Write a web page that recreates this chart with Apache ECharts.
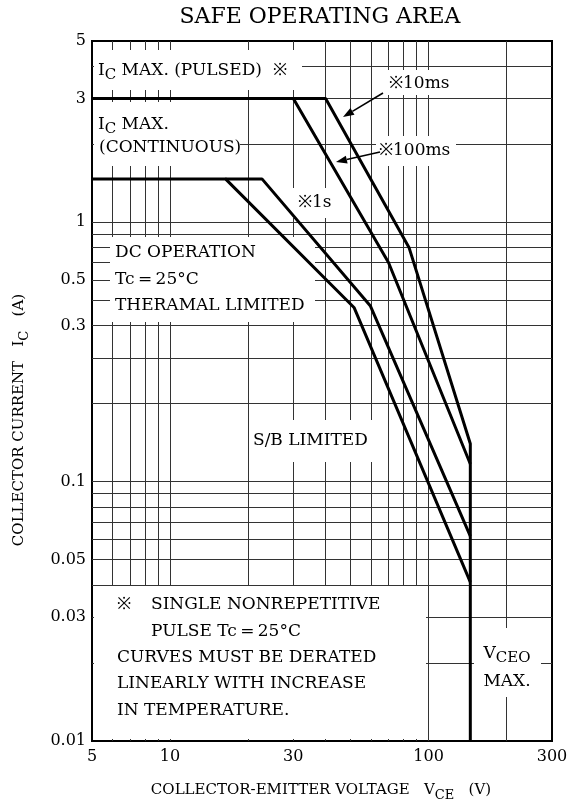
<!DOCTYPE html>
<html lang="en">
<head>
    <meta charset="UTF-8">
    <title>SAFE OPERATING AREA</title>
    <style>
        html, body { margin: 0; padding: 0; background: #fff; }
        #myEcharts { width: 576px; height: 809px; }
    </style>
    <script src="https://cdn.jsdelivr.net/npm/echarts@6/dist/echarts.min.js"></script>
</head>
<body>
<div id="myEcharts"></div>
<script>
    // x axis: collector-emitter voltage (V), log scale
    var xLabelValues = [5, 10, 30, 100, 300];
    var xGridValues = [6, 7, 8, 9, 10, 20, 30, 40, 50, 60, 70, 80, 90, 100, 200];
    // y axis: collector current (A), log scale
    var yGridValues = [0.02, 0.03, 0.04, 0.05, 0.06, 0.07, 0.08, 0.09, 0.1,
        0.2, 0.3, 0.4, 0.5, 0.6, 0.7, 0.8, 0.9, 1, 2, 3, 4];
    // labels as printed on the sheet (0.5 / 0.3 sit one grid line high)
    var yLabelValues = [0.01, 0.03, 0.05, 0.1, 0.4, 0.6, 1, 3, 5];
    var yLabelTexts = ['0.01', '0.03', '0.05', '0.1', '0.3', '0.5', '1', '3', '5'];

    // SOA curves [V, A]
    var pulse10ms = [[5, 3], [40, 3], [84, 0.8], [145, 0.14], [145, 0.01]];
    var pulse100ms = [[30, 3], [70, 0.7], [145, 0.117]];
    var pulse1s = [[16.4, 1.47], [22.7, 1.47], [59.5, 0.477], [145, 0.0616]];
    var dcCurve = [[5, 1.47], [16.4, 1.47], [51.6, 0.468], [145, 0.041]];

    var FONT = '"DejaVu Serif", "Liberation Serif", serif';

    function txt(x, y, text, size, align, extra) {
        var el = {
            type: 'text', x: x, y: y, z: 10,
            style: {
                text: text, fill: '#000', font: size + 'px ' + FONT,
                textAlign: align || 'left', textVerticalAlign: 'middle'
            }
        };
        if (extra) {
            for (var k in extra) el.style[k] = extra[k];
        }
        return el;
    }

    function subRich(size) {
        return {
            n: { fontFamily: FONT, fontSize: size, lineHeight: 24, verticalAlign: 'middle', color: '#000' },
            s: { fontFamily: FONT, fontSize: size - 2, lineHeight: 14, verticalAlign: 'bottom', color: '#000' }
        };
    }

    // white boxes that hide the grid behind labels
    function box(x1, y1, x2, y2) {
        return {
            type: 'rect', z: 5, shape: { x: x1, y: y1, width: x2 - x1, height: y2 - y1 },
            style: { fill: '#fff' }, silent: true
        };
    }

    function arrow(x1, y1, x2, y2) {
        var a = Math.atan2(y2 - y1, x2 - x1), L = 11, W = 4;
        var bx = x2 - L * Math.cos(a), by = y2 - L * Math.sin(a);
        return [
            { type: 'line', z: 30, shape: { x1: x1, y1: y1, x2: bx, y2: by }, style: { stroke: '#000', lineWidth: 1.6 } },
            {
                type: 'polygon', z: 30,
                shape: { points: [[x2, y2], [bx + W * Math.sin(a), by - W * Math.cos(a)], [bx - W * Math.sin(a), by + W * Math.cos(a)]] },
                style: { fill: '#000' }
            }
        ];
    }

    var elements = [
        box(94, 50, 302, 90),
        box(94, 102, 240, 166),
        box(293, 188, 336, 218),
        box(385, 70, 456, 95),
        box(376, 136, 456, 166),
        box(110, 237, 315, 322),
        box(250, 420, 380, 462),
        box(474, 628, 541, 697),
        box(94, 586, 426, 739),

        txt(320, 17, 'SAFE OPERATING AREA', 22, 'center'),
        txt(98, 71, '{n|I}{s|C}{n| MAX. (PULSED)  ※}', 17, 'left', { rich: subRich(17) }),
        txt(98, 125, '{n|I}{s|C}{n| MAX.}', 17, 'left', { rich: subRich(17) }),
        txt(99, 148, '(CONTINUOUS)', 17),
        txt(389, 84, '※10ms', 17),
        txt(379, 151, '※100ms', 17),
        txt(298, 203, '※1s', 17),
        txt(115, 253, 'DC OPERATION', 17),
        txt(115, 280, 'Tc\u2009=\u200925°C', 17),
        txt(115, 306, 'THERAMAL LIMITED', 17),
        txt(253, 441, 'S/B LIMITED', 17),
        txt(507, 654, '{n|V}{s|CEO}', 17, 'center', { rich: subRich(17) }),
        txt(507, 682, 'MAX.', 17, 'center'),
        txt(117, 605, '※', 17),
        txt(151, 605, 'SINGLE NONREPETITIVE', 17),
        txt(151, 632, 'PULSE Tc\u2009=\u200925°C', 17),
        txt(117, 658, 'CURVES MUST BE DERATED', 17),
        txt(117, 684, 'LINEARLY WITH INCREASE', 17),
        txt(117, 711, 'IN TEMPERATURE.', 17),
        txt(321, 790, '{n|COLLECTOR-EMITTER VOLTAGE   V}{s|CE}{n|   (V)}', 15, 'center', { rich: subRich(15) }),
        {
            type: 'text', x: 19, y: 420, z: 10, rotation: Math.PI / 2,
            style: {
                text: '{n|COLLECTOR CURRENT   I}{s|C}{n|   (A)}', rich: subRich(15),
                textAlign: 'center', textVerticalAlign: 'middle'
            }
        }
    ].concat(arrow(383, 93, 343, 117)).concat(arrow(380, 152, 336, 162));

    var curveStyle = { color: '#000', width: 3 };

    var myChart = echarts.init(document.getElementById('myEcharts'));
    var option = {
        animation: false,
        backgroundColor: '#fff',
        grid: {
            left: 92, right: 24, top: 41, bottom: 68,
            show: true, borderColor: '#000', borderWidth: 2, backgroundColor: 'transparent'
        },
        xAxis: {
            type: 'log', min: 5, max: 300,
            axisLine: { show: false },
            axisTick: { show: false, customValues: xGridValues },
            splitLine: { show: true, lineStyle: { color: '#333', width: 1 } },
            axisLabel: {
                customValues: xLabelValues, margin: 8,
                fontFamily: FONT, fontSize: 16, color: '#000',
                formatter: function (v) { return String(Math.round(v)); }
            }
        },
        yAxis: {
            type: 'log', min: 0.01, max: 5,
            axisLine: { show: false },
            axisTick: { show: false, customValues: yGridValues },
            splitLine: { show: true, lineStyle: { color: '#333', width: 1 } },
            axisLabel: {
                customValues: yLabelValues, margin: 6,
                fontFamily: FONT, fontSize: 16, color: '#000',
                formatter: function (v) {
                    for (var i = 0; i < yLabelValues.length; i++) {
                        if (Math.abs(v - yLabelValues[i]) < 1e-9) return yLabelTexts[i];
                    }
                    return '';
                }
            }
        },
        graphic: { elements: elements },
        series: [
            { name: '10ms', type: 'line', z: 20, data: pulse10ms, symbol: 'none', lineStyle: curveStyle },
            { name: '100ms', type: 'line', z: 20, data: pulse100ms, symbol: 'none', lineStyle: curveStyle },
            { name: '1s', type: 'line', z: 20, data: pulse1s, symbol: 'none', lineStyle: curveStyle },
            { name: 'DC', type: 'line', z: 20, data: dcCurve, symbol: 'none', lineStyle: curveStyle }
        ]
    };
    myChart.setOption(option);
</script>
</body>
</html>
